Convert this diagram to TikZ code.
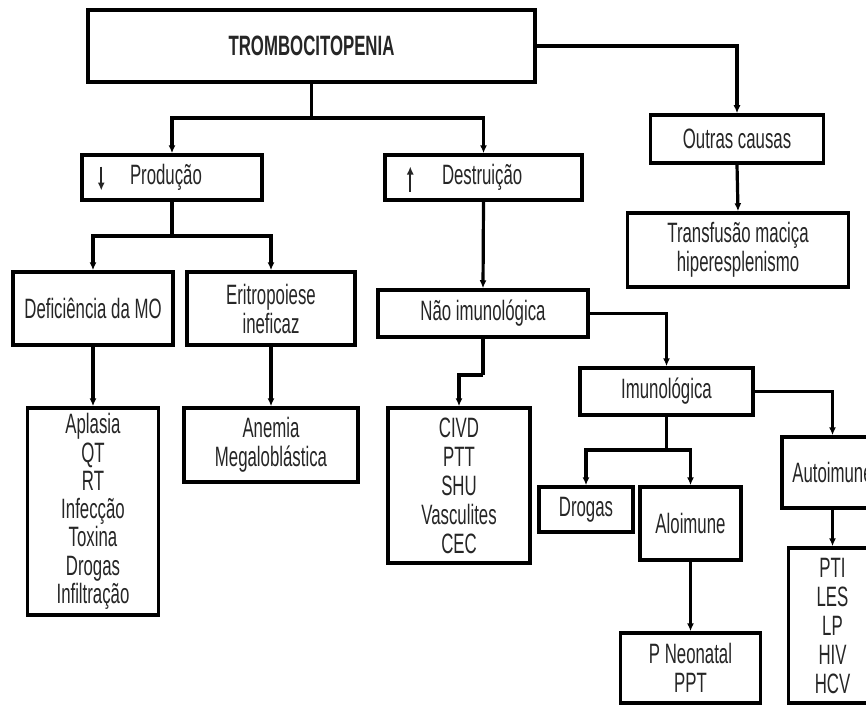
\documentclass[tikz,border=0pt]{standalone}
\usepackage{fontspec}
\setmainfont{Liberation Sans}[FakeStretch=0.6]
\usetikzlibrary{arrows.meta}
\definecolor{ink}{HTML}{262626}
\begin{document}
\begin{tikzpicture}[x=1pt,y=-1pt,
  box/.style={draw=black, line width=3.5pt, fill=white, inner sep=0pt, align=center,
    text=ink, font=\fontsize{28}{29}\selectfont},
  leftbox/.style={box, inner xsep=0pt, align=left},
  conn/.style={draw=black, line width=3.2pt, -{Latex[length=8pt,width=7pt]}},
  plain/.style={draw=black, line width=3.2pt},
  glyph/.style={draw=ink, line width=1.6pt, -{Latex[length=8pt,width=7pt]}}]
\clip (0,0) rectangle (866,706);
\fill[white] (0,0) rectangle (866,706);

% nodes
\node[box, minimum width=447pt, minimum height=72pt,
      font=\fontsize{28}{29}\selectfont\bfseries] (trombo) at (311.5,46) {TROMBOCITOPENIA};
\node[leftbox, minimum height=45pt, text width=180pt]
      (prod) at (172,177.5) {\hspace{48pt}Produção};
\node[leftbox, minimum height=45pt, text width=197pt]
      (dest) at (483.5,177.5) {\hspace{57pt}Destruição};
\node[box, minimum width=173pt, minimum height=48pt] (outras) at (737,139) {Outras causas};
\node[box, minimum width=221pt, minimum height=74pt] (transf) at (738,250) {Transfusão maciça\\hiperesplenismo};
\node[box, minimum width=160pt, minimum height=73pt] (defic) at (93,308.5) {Deficiência da MO};
\node[box, minimum width=168pt, minimum height=73pt] (erit) at (271,308.5) {Eritropoiese\\ineficaz};
\node[box, minimum width=131pt, minimum height=207pt, font=\fontsize{28}{28.3}\selectfont]
      (aplasia) at (93,511.5) {Aplasia\\QT\\RT\\Infecção\\Toxina\\Drogas\\Infiltração};
\node[box, minimum width=174pt, minimum height=74pt] (anemia) at (271,445) {Anemia\\Megaloblástica};
\node[box, minimum width=210pt, minimum height=47pt] (naoimuno) at (483,313.5) {Não imunológica};
\node[box, minimum width=142pt, minimum height=155pt] (civd) at (459,485.5) {CIVD\\PTT\\SHU\\Vasculites\\CEC};
\node[box, minimum width=173pt, minimum height=47pt] (imuno) at (666.5,391.5) {Imunológica};
\node[box, minimum width=94pt, minimum height=45pt] (drogas) at (586,509.5) {Drogas};
\node[box, minimum width=101pt, minimum height=73pt] (aloimune) at (690.5,523.5) {Aloimune};
\node[box, minimum width=101pt, minimum height=71pt] (autoimune) at (832.5,472.5) {Autoimune};
\node[box, minimum width=88pt, minimum height=155pt] (pti) at (832.5,625.5) {PTI\\LES\\LP\\HIV\\HCV};
\node[box, minimum width=140pt, minimum height=70pt] (pneo) at (690.5,668) {P Neonatal\\PPT};

% down / up marks inside Produção and Destruição
\draw[glyph] ([xshift=21pt,yshift=11pt]prod.west) -- ([xshift=21pt,yshift=-13pt]prod.west);
\draw[glyph] ([xshift=27pt,yshift=-14pt]dest.west) -- ([xshift=27pt,yshift=11pt]dest.west);

% junction points
\coordinate (j1) at (311.5,118);
\coordinate (j2) at (172,236);
\coordinate (j3) at (483,375);
\coordinate (j4) at (666.5,450);

% connectors
\draw[plain] (trombo.south) -- (j1);
\draw[conn] (j1) -| (prod.north);
\draw[conn] (j1) -| (dest.north);
\draw[conn] (trombo.east) -| (outras.north);
\draw[conn] (outras.south) -- (transf.north);
\draw[plain] (prod.south) -- (j2);
\draw[conn] (j2) -| (defic.north);
\draw[conn] (j2) -| (erit.north);
\draw[conn] (defic.south) -- (aplasia.north);
\draw[conn] (erit.south) -- (anemia.north);
\draw[conn] (dest.south) -- (naoimuno.north);
\draw[conn] (naoimuno.east) -| (imuno.north);
\draw[plain] (naoimuno.south) -- (j3);
\draw[conn] (j3) -| (civd.north);
\draw[plain] (imuno.south) -- (j4);
\draw[conn] (j4) -| (drogas.north);
\draw[conn] (j4) -| (aloimune.north);
\draw[conn] (imuno.east) -| (autoimune.north);
\draw[conn] (autoimune.south) -- (pti.north);
\draw[conn] (aloimune.south) -- (pneo.north);
\end{tikzpicture}
\end{document}
